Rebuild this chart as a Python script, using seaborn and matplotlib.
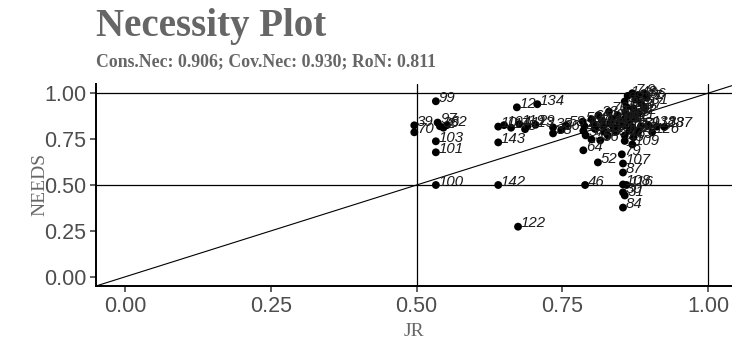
import pandas as pd
import seaborn as sns
import matplotlib.pyplot as plt

# case values (JR = condition, NEEDS = outcome)
jr = [0.496, 0.496, 0.533, 0.536, 0.540, 0.552, 0.546, 0.533, 0.533, 0.533,
      0.640, 0.650, 0.662, 0.672, 0.707, 0.676, 0.690, 0.704, 0.686, 0.640, 0.640, 0.674,
      0.734, 0.734, 0.748, 0.756,
      0.785, 0.788, 0.786, 0.790, 0.800, 0.804, 0.806, 0.800, 0.812, 0.818, 0.820, 0.822,
      0.815, 0.830, 0.835, 0.832, 0.838, 0.828, 0.845, 0.848, 0.845, 0.842, 0.786, 0.811, 0.789,
      0.857, 0.862, 0.870, 0.880, 0.890, 0.895, 0.875, 0.885, 0.860, 0.872, 0.890, 0.858,
      0.868, 0.880, 0.857, 0.866, 0.876, 0.857, 0.870, 0.885, 0.898, 0.912, 0.925, 0.904,
      0.865, 0.880, 0.857, 0.872, 0.857, 0.870, 0.852, 0.854, 0.854, 0.854, 0.860, 0.854,
      0.857, 0.854]
needs = [0.825, 0.787, 0.956, 0.840, 0.820, 0.826, 0.812, 0.738, 0.678, 0.500,
         0.818, 0.826, 0.812, 0.923, 0.940, 0.832, 0.820, 0.828, 0.804, 0.732, 0.500, 0.273,
         0.814, 0.781, 0.800, 0.824,
         0.845, 0.820, 0.795, 0.770, 0.858, 0.830, 0.805, 0.748, 0.880, 0.850, 0.818, 0.790,
         0.743, 0.900, 0.862, 0.835, 0.805, 0.770, 0.880, 0.845, 0.818, 0.790, 0.689, 0.623, 0.500,
         0.955, 0.985, 1.000, 0.990, 1.000, 0.975, 0.965, 0.945, 0.925, 0.918, 0.920, 0.895,
         0.880, 0.890, 0.860, 0.850, 0.860, 0.825, 0.815, 0.820, 0.822, 0.818, 0.816, 0.787,
         0.795, 0.790, 0.770, 0.760, 0.740, 0.721, 0.667, 0.617, 0.568, 0.503, 0.500, 0.460,
         0.443, 0.377]
cases = [39, 70, 99, 97, 33, 62, 2, 103, 101, 100,
         10, 104, 17, 12, 134, 119, 113, 29, 5, 143, 142, 122,
         35, 38, 36, 58,
         50, 24, 43, 57, 66, 90, 65, 55, 23, 59, 14, 41,
         56, 76, 20, 44, 25, 86, 53, 68, 15, 71, 64, 52, 46,
         98, 1, 7, 48, 9, 96, 127, 131, 82, 13, 47, 120,
         73, 92, 37, 11, 21, 27, 111, 89, 138, 128, 137, 126,
         75, 19, 42, 63, 45, 109, 79, 107, 87, 108, 116, 30,
         31, 84]

subtitle = "Cons.Nec: 0.906; Cov.Nec: 0.930; RoN: 0.811"
ticks = [0, 0.25, 0.5, 0.75, 1.0]
tick_labels = ["0.00", "0.25", "0.50", "0.75", "1.00"]

df = pd.DataFrame({"JR": jr, "NEEDS": needs, "case": cases})

sns.set_style("white")
plt.rcParams["font.family"] = ["Liberation Sans", "DejaVu Sans"]

fig = plt.figure(figsize=(7.32, 3.49), dpi=100)
ax = fig.add_axes([96 / 732, 63 / 349, 636 / 732, 202 / 349])

# reference lines
for v in (0.5, 1.0):
    ax.axhline(v, color="black", lw=0.9, zorder=1)
    ax.axvline(v, color="black", lw=0.9, zorder=1)
ax.axline((0, 0), (1, 1), color="black", lw=0.8, zorder=1)

sns.scatterplot(data=df, x="JR", y="NEEDS", color="black", s=32,
                edgecolor="none", ax=ax, zorder=3, legend=False)

for x, y, c in zip(jr, needs, cases):
    ax.annotate(str(c), (x, y), xytext=(2, 2.5),
                textcoords="offset points", ha="left", va="center",
                fontsize=10.8, style="italic", color="#1a1a1a", zorder=4)

ax.set_xlim(-0.05, 1.041)
ax.set_ylim(-0.05, 1.05)
ax.set_xticks(ticks)
ax.set_xticklabels(tick_labels)
ax.set_yticks(ticks)
ax.set_yticklabels(tick_labels)
ax.tick_params(axis="both", length=4, width=1.1, color="#333333",
               labelcolor="#4d4d4d", labelsize=15.5, pad=3, left=True, bottom=True)

for s in ("top", "right"):
    ax.spines[s].set_visible(False)
for s in ("left", "bottom"):
    ax.spines[s].set_color("black")
    ax.spines[s].set_linewidth(1.4)

ax.set_xlabel("JR", family="Liberation Serif", fontsize=14, color="#666666")
ax.set_ylabel("NEEDS", family="Liberation Serif", fontsize=14, color="#666666")
ax.xaxis.set_label_coords(0.5, -0.223)
ax.xaxis.label.set_va("center")
ax.yaxis.set_label_coords(-0.088, 0.505)
ax.yaxis.label.set_va("center")

fig.text(96 / 732, 1 - 36 / 349, "Necessity Plot", family="Liberation Serif",
         weight="bold", fontsize=28, color="#666666", va="baseline")
fig.text(96 / 732, 1 - 66 / 349, subtitle, family="Liberation Serif",
         weight="bold", fontsize=12.8, color="#666666", va="baseline")

fig.savefig("out.png", dpi=100)
